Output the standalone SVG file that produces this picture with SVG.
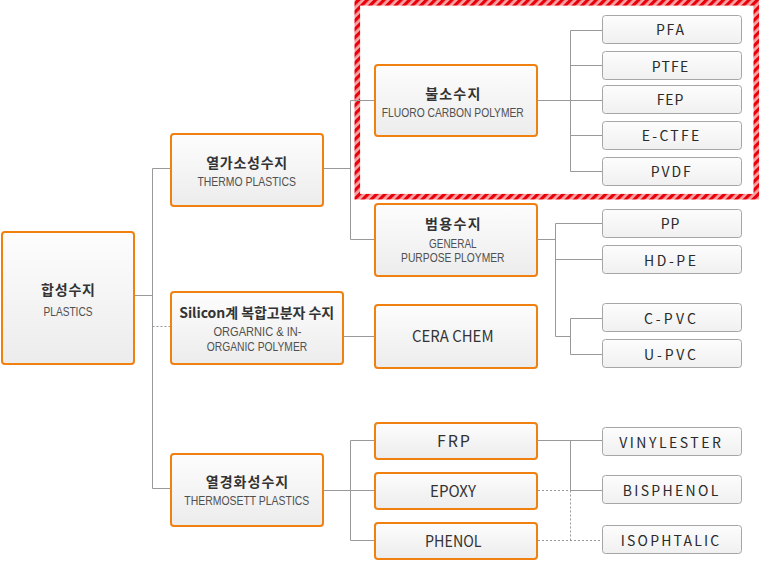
<svg xmlns="http://www.w3.org/2000/svg" width="770" height="561" viewBox="0 0 770 561">
<style>
.node{fill:url(#ng);stroke:#f0800f;stroke-width:2}
.leaf{fill:url(#lg);stroke:#a6a6a6;stroke-width:1}
.ln{fill:none;stroke:#999;stroke-width:1}
.dt{fill:none;stroke:#999;stroke-width:1;stroke-dasharray:2,2}
text{font-family:"Noto Sans CJK KR","Liberation Sans",sans-serif;text-anchor:middle}
.t{font-size:14px;font-weight:bold;fill:#333}
.s{font-family:"Liberation Sans","Noto Sans CJK KR",sans-serif;font-size:13px;fill:#505050}
.m{font-size:16px;fill:#333}
.g{font-size:14px;fill:#2a2a2a}
</style>
<defs>
<linearGradient id="ng" x1="0" y1="0" x2="0" y2="1"><stop offset="0" stop-color="#fdfdfd"/><stop offset="1" stop-color="#ececec"/></linearGradient>
<linearGradient id="lg" x1="0" y1="0" x2="0" y2="1"><stop offset="0" stop-color="#fdfdfd"/><stop offset="1" stop-color="#f0f0f0"/></linearGradient>
<pattern id="stripes" patternUnits="userSpaceOnUse" width="6" height="6" patternTransform="rotate(45)"><rect x="0" y="0" width="6" height="6" fill="#f7a3a3"/><rect x="0" y="0" width="3.2" height="6" fill="#e8000b"/></pattern>
</defs>
<rect id="highlight" x="357.3" y="2.8" width="399" height="193.9" fill="none" stroke="url(#stripes)" stroke-width="5.6"/>
<g id="connectors">
<path class="ln" d="M135 295.5H152.5M152.5 168.5V488.5M152.5 168.5H170M152.5 488.5H170"/>
<path class="dt" d="M152.5 326.5H170"/>
<path class="ln" d="M324 168.5H350.5M350.5 100.5V239.5M350.5 100.5H374M350.5 239.5H374"/>
<path class="ln" d="M538 100.5H570.5M570.5 30.5V171.5M570.5 30.5H602M570.5 65.5H602M570.5 135.5H602M570.5 171.5H602M570.5 100.5H602"/>
<path class="ln" d="M538 239.5H555.5M555.5 223.5V336.5M555.5 223.5H602M555.5 259.5H602M555.5 336.5H570.5M570.5 318.5V354.5M570.5 318.5H602M570.5 354.5H602"/>
<path class="ln" d="M344 336.5H374"/>
<path class="ln" d="M324 490.5H350.5M350.5 440.5V540.5M350.5 440.5H374M350.5 490.5H374M350.5 540.5H374"/>
<path class="ln" d="M538 440.5H602M570.5 440.5V490.5M570.5 490.5H602"/>
<path class="dt" d="M538 490.5H570.5M570.5 490.5V540.5M538 540.5H602"/>
</g>
<g id="plastics"><rect class="node" x="2" y="232" width="132" height="132" rx="3"/><text class="t" x="68" y="295" textLength="54">합성수지</text><text class="s" x="68" y="315.5" textLength="49" lengthAdjust="spacingAndGlyphs">PLASTICS</text></g>
<g id="thermo"><rect class="node" x="171" y="134" width="152" height="72" rx="3"/><text class="t" x="246.7" y="168" textLength="81">열가소성수지</text><text class="s" x="246.7" y="185.7" textLength="98.5" lengthAdjust="spacingAndGlyphs">THERMO PLASTICS</text></g>
<g id="silicon"><rect class="node" x="171" y="292" width="172" height="72" rx="3"/><text class="t" x="256.7" y="318" textLength="155">Silicon계 복합고분자 수지</text><text class="s" x="257.5" y="336.3" textLength="88" lengthAdjust="spacingAndGlyphs">ORGARNIC &amp; IN-</text><text class="s" x="257" y="351" textLength="100.5" lengthAdjust="spacingAndGlyphs">ORGANIC POLYMER</text></g>
<g id="thermoset"><rect class="node" x="171" y="454" width="152" height="72" rx="3"/><text class="t" x="247" y="487" textLength="82.5">열경화성수지</text><text class="s" x="246.8" y="505" textLength="125" lengthAdjust="spacingAndGlyphs">THERMOSETT PLASTICS</text></g>
<g id="fluoro"><rect class="node" x="375" y="65" width="162" height="71" rx="3"/><text class="t" x="452.8" y="99" textLength="55">불소수지</text><text class="s" x="452.8" y="116.5" textLength="142" lengthAdjust="spacingAndGlyphs">FLUORO CARBON POLYMER</text></g>
<g id="general"><rect class="node" x="375" y="204" width="162" height="72" rx="3"/><text class="t" x="452.8" y="229" textLength="55.5">범용수지</text><text class="s" x="452.8" y="247.7" textLength="47.5" lengthAdjust="spacingAndGlyphs">GENERAL</text><text class="s" x="452.8" y="262.3" textLength="103.5" lengthAdjust="spacingAndGlyphs">PURPOSE PLOYMER</text></g>
<g id="cera"><rect class="node" x="375" y="305" width="162" height="63" rx="3"/><text class="m" x="452.8" y="342" font-size="17" textLength="81.5" lengthAdjust="spacingAndGlyphs">CERA CHEM</text></g>
<g id="frp"><rect class="node" x="375" y="423" width="162" height="36" rx="3"/><text class="m" x="453.5" y="447.3" textLength="33">FRP</text></g>
<g id="epoxy"><rect class="node" x="375" y="473" width="162" height="36" rx="3"/><text class="m" x="453" y="496.7" textLength="46" lengthAdjust="spacingAndGlyphs">EPOXY</text></g>
<g id="phenol"><rect class="node" x="375" y="523" width="162" height="36" rx="3"/><text class="m" x="453.3" y="547" textLength="56.5" lengthAdjust="spacingAndGlyphs">PHENOL</text></g>
<g id="pfa"><rect class="leaf" x="602.5" y="15.5" width="139" height="28" rx="3"/><text class="g" x="670" y="35.3" textLength="28">PFA</text></g>
<g id="ptfe"><rect class="leaf" x="602.5" y="51.5" width="139" height="28" rx="3"/><text class="g" x="670" y="71.7" textLength="36.7">PTFE</text></g>
<g id="fep"><rect class="leaf" x="602.5" y="85.5" width="139" height="28" rx="3"/><text class="g" x="670" y="105.3" textLength="26.7">FEP</text></g>
<g id="ectfe"><rect class="leaf" x="602.5" y="121.5" width="139" height="28" rx="3"/><text class="g" x="670.5" y="141.3" textLength="57.7">E-CTFE</text></g>
<g id="pvdf"><rect class="leaf" x="602.5" y="157.5" width="139" height="28" rx="3"/><text class="g" x="670.7" y="177.3" textLength="40">PVDF</text></g>
<g id="pp"><rect class="leaf" x="602.5" y="209.5" width="139" height="28" rx="3"/><text class="g" x="670" y="229.3" textLength="18.7">PP</text></g>
<g id="hdpe"><rect class="leaf" x="602.5" y="245.5" width="139" height="28" rx="3"/><text class="g" x="670" y="265.7" textLength="52">HD-PE</text></g>
<g id="cpvc"><rect class="leaf" x="602.5" y="303.5" width="139" height="28" rx="3"/><text class="g" x="670" y="324" textLength="52">C-PVC</text></g>
<g id="upvc"><rect class="leaf" x="602.5" y="339.5" width="139" height="28" rx="3"/><text class="g" x="670" y="360" textLength="52">U-PVC</text></g>
<g id="vinylester"><rect class="leaf" x="602.5" y="427.5" width="139" height="28" rx="3"/><text class="g" x="670" y="447.7" textLength="101.7">VINYLESTER</text></g>
<g id="bisphenol"><rect class="leaf" x="602.5" y="475.5" width="139" height="28" rx="3"/><text class="g" x="670.5" y="495.7" textLength="95.6">BISPHENOL</text></g>
<g id="isophtalic"><rect class="leaf" x="602.5" y="525.5" width="139" height="28" rx="3"/><text class="g" x="670" y="545.7" textLength="98.6">ISOPHTALIC</text></g>
</svg>
